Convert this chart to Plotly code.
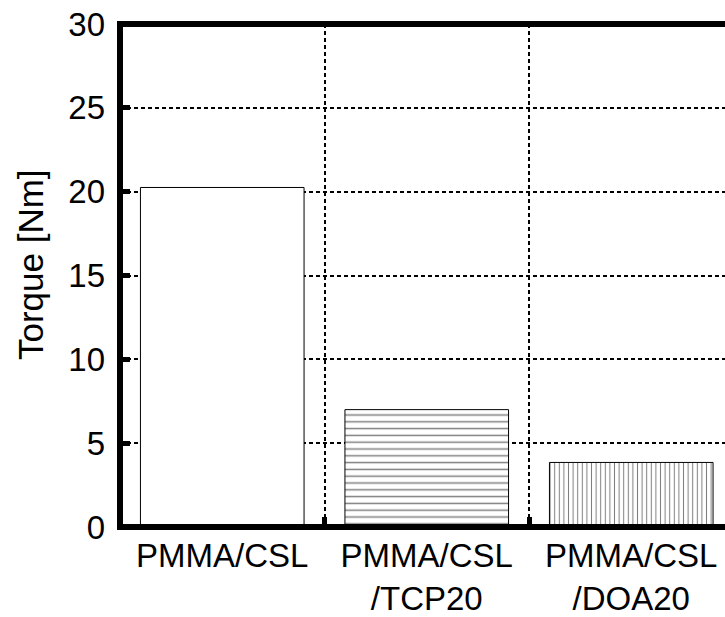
import plotly.graph_objects as go

categories = ["PMMA/CSL", "PMMA/CSL<br>/TCP20", "PMMA/CSL<br>/DOA20"]
torque = [20.25, 7.0, 3.85]
patterns = ["", "-", "|"]
pattern_sizes = [8, 6.8, 4.6]
y_ticks = [0, 5, 10, 15, 20, 25, 30]
y_title = "Torque [Nm]"

FONT = "Liberation Sans, Arial, sans-serif"
W, H = 725, 617
ML, MT, MB = 120, 24, 87
PW, PH = W - ML, H - MT - MB
x_range = [-0.5, -0.5 + PW / 204.5]
boundaries = [0.5, 1.5]

fig = go.Figure()
fig.add_trace(go.Bar(
    x=list(range(len(categories))),
    y=torque,
    width=0.8,
    marker=dict(
        color="white",
        line=dict(color="black", width=1),
        pattern=dict(shape=patterns, size=pattern_sizes, solidity=0.22,
                     fgcolor="black", bgcolor="white", fillmode="overlay"),
    ),
    showlegend=False,
))

fig.update_layout(
    width=W, height=H,
    margin=dict(l=ML, r=0, t=MT, b=MB),
    paper_bgcolor="white", plot_bgcolor="white",
    font=dict(family=FONT, size=33, color="black"),
    bargap=0.2,
    xaxis2=dict(overlaying="x", side="top", range=x_range, tickmode="array",
                tickvals=boundaries, ticks="inside", ticklen=10, tickwidth=4.5,
                tickcolor="black", showticklabels=False, showgrid=False,
                zeroline=False, showline=False),
)
fig.update_xaxes(
    range=x_range,
    tickmode="array", tickvals=[0, 1, 2], ticktext=categories,
    showgrid=False, showline=False,
    ticks="", zeroline=False, ticklabelstandoff=6,
    minor=dict(tickvals=boundaries, ticks="inside", ticklen=10, tickwidth=4.5,
               tickcolor="black", showgrid=True, gridcolor="black",
               gridwidth=2, griddash="4px,3px"),
    selector=dict(anchor="y"),
)
fig.layout.xaxis.update(
    range=x_range,
    tickmode="array", tickvals=[0, 1, 2], ticktext=categories,
    showgrid=False, showline=False,
    ticks="", zeroline=False, ticklabelstandoff=6,
    minor=dict(tickvals=boundaries, ticks="inside", ticklen=10, tickwidth=4.5,
               tickcolor="black", showgrid=True, gridcolor="black",
               gridwidth=2, griddash="4px,3px"),
)
fig.update_yaxes(
    range=[0, 30], tickvals=y_ticks,
    showgrid=True, gridcolor="black", gridwidth=2, griddash="4px,3px",
    showline=False, mirror=False,
    ticks="inside", ticklen=10, tickwidth=4.5, tickcolor="black",
    zeroline=False, ticklabelstandoff=14,
)
frame = dict(type="line", xref="paper", yref="paper", line=dict(color="black", width=6), layer="above")
fig.add_shape(**frame, x0=0, x1=0, y0=-3 / PH, y1=1 + 3 / PH)
fig.add_shape(**frame, x0=-3 / PW, x1=1.02, y0=0, y1=0)
fig.add_shape(**frame, x0=-3 / PW, x1=1.02, y0=1, y1=1)

fig.add_annotation(text=y_title, textangle=-90, xref="paper", yref="paper",
                   x=(30 - ML) / PW, y=(H - MB - 266.5) / PH,
                   xanchor="center", yanchor="middle", showarrow=False,
                   font=dict(size=35))

fig.write_html("out.html", config={"displayModeBar": False},
               post_script="document.body.style.margin='0';document.body.style.overflow='hidden';")
